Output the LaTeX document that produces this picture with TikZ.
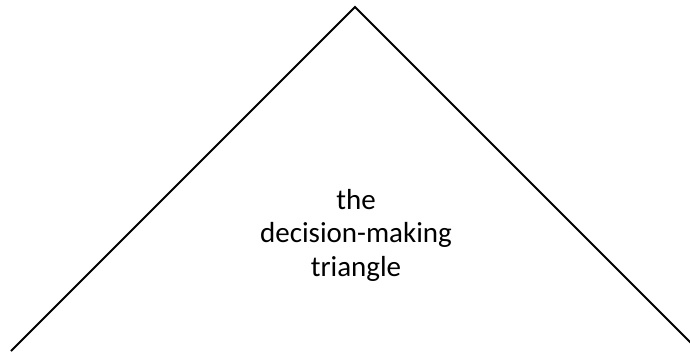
\documentclass[tikz,border=0pt]{standalone}
\usepackage{fontspec}
\setmainfont{Carlito}
\usepackage{xcolor}
\usepackage{tikz}
\usetikzlibrary{calc}
\definecolor{triInk}{HTML}{000000}
\tikzset{
  % One open triangle, cut by the page at both lower corners.
  tri/base/.style={
    font=\rmfamily\fontsize{29pt}{33.5pt}\selectfont,
    text=triInk,
    line cap=butt,
    line join=miter
  },
  tri/edge/.style={
    draw=triInk,
    line width=1.8pt
  },
  tri/label/.style={
    font=\rmfamily\fontsize{29pt}{33.5pt}\selectfont,
    text=triInk,
    align=center,
    inner sep=0pt
  }
}
\begin{document}
\begin{tikzpicture}[tri/base,x=1pt,y=-1pt]
  \useasboundingbox (0,0) rectangle (690,351);
  \coordinate (apex) at (355,7);
  \coordinate (leftFoot) at (11,351);
  \coordinate (rightFoot) at (699,351);
  \draw[tri/edge] (leftFoot)--(apex)--(rightFoot);
  \node[tri/label] (triLabel) at (356,235) {the\\decision-making\\triangle};
\end{tikzpicture}
\end{document}
